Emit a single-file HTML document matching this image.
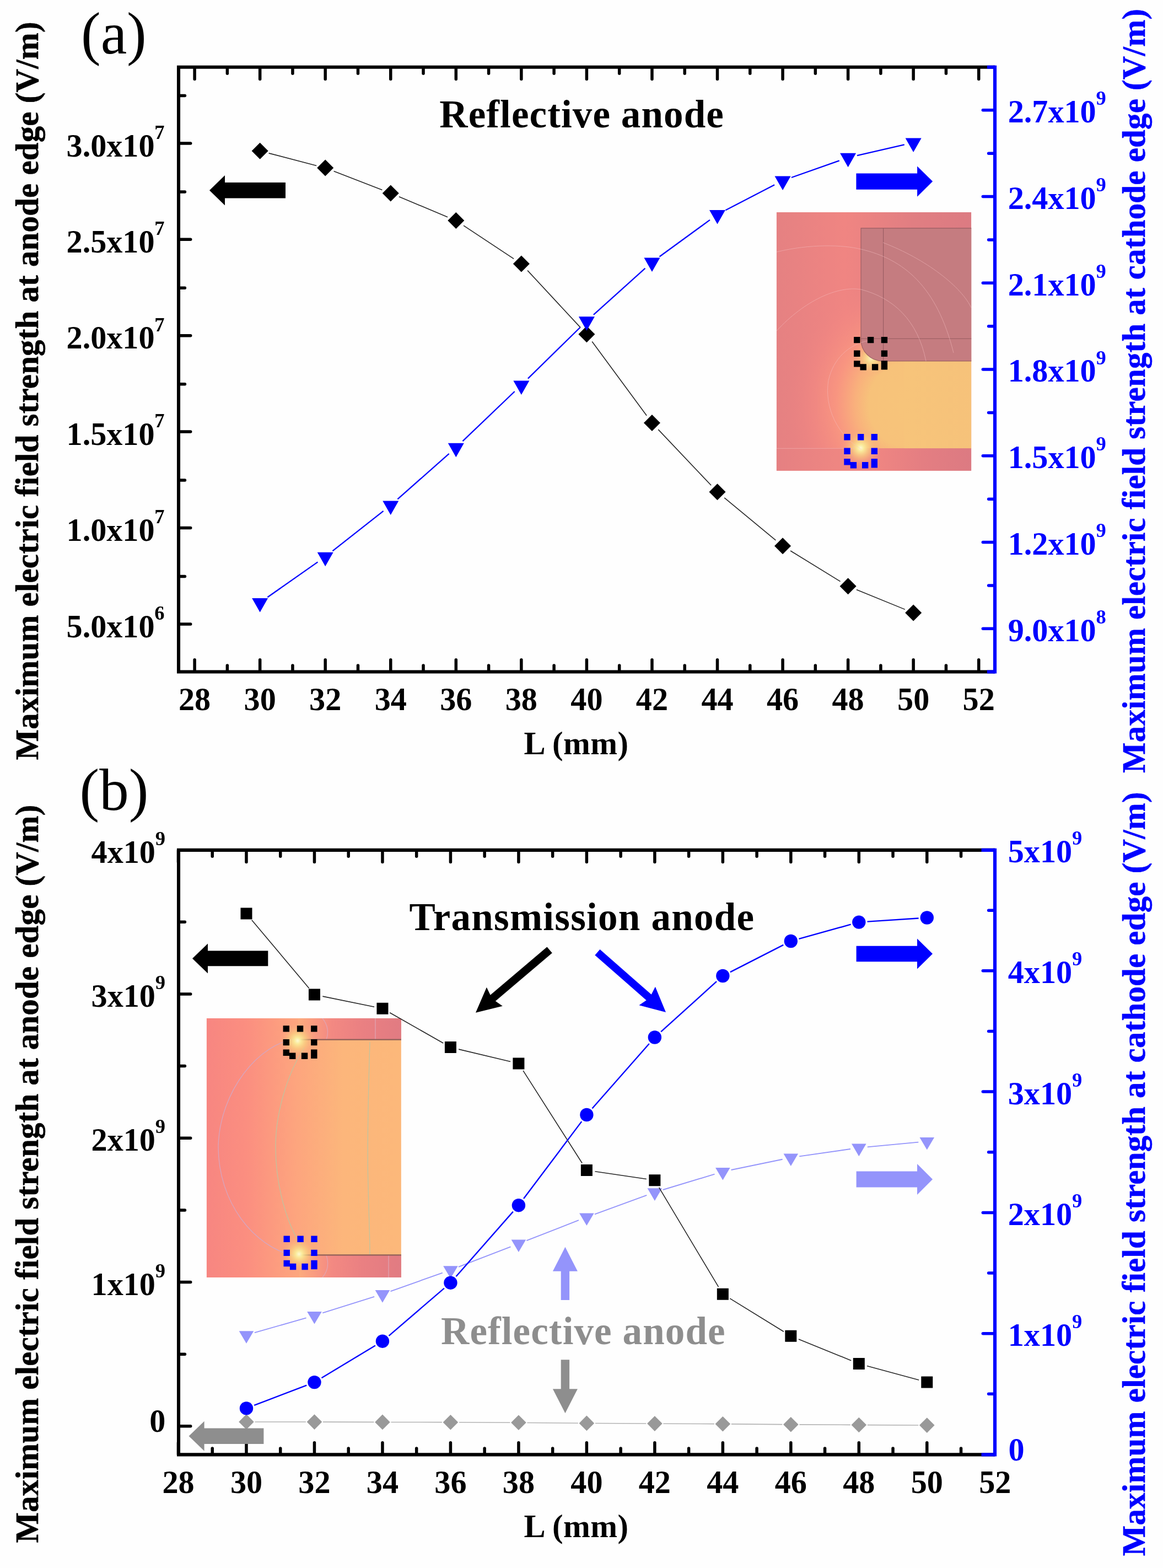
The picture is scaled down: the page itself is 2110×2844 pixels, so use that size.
<!DOCTYPE html>
<html lang="en"><head><meta charset="utf-8"><title>Maximum electric field strength vs L</title>
<style>html,body{margin:0;padding:0;background:#fefefe}svg{display:block}text{font-family:'Liberation Serif', serif}</style>
</head><body>
<svg width="2110" height="2844" viewBox="0 0 2110 2844">
<defs>
<linearGradient id="gaBg" x1="0" y1="0" x2="1" y2="0"><stop offset="0" stop-color="#e58182"/><stop offset="0.35" stop-color="#f08582"/><stop offset="0.7" stop-color="#e17e82"/><stop offset="1" stop-color="#dc7b82"/></linearGradient>
<radialGradient id="glow"><stop offset="0" stop-color="#fdfbd2"/><stop offset="0.18" stop-color="#faec9a" stop-opacity="0.95"/><stop offset="0.45" stop-color="#f9d080" stop-opacity="0.7"/><stop offset="0.75" stop-color="#fab47e" stop-opacity="0.3"/><stop offset="1" stop-color="#f9a07e" stop-opacity="0"/></radialGradient>
<linearGradient id="gbBg" x1="0" y1="0" x2="1" y2="0"><stop offset="0" stop-color="#f78681"/><stop offset="0.2" stop-color="#fb8e80"/><stop offset="0.45" stop-color="#fda47e"/><stop offset="0.7" stop-color="#fcb67b"/><stop offset="1" stop-color="#fcb87a"/></linearGradient>
<linearGradient id="gbBand" x1="0" y1="0" x2="1" y2="0"><stop offset="0" stop-color="#fcab7e"/><stop offset="0.14" stop-color="#fa9c80"/><stop offset="0.32" stop-color="#f38982"/><stop offset="0.62" stop-color="#ea8082"/><stop offset="1" stop-color="#e17b82"/></linearGradient>
<radialGradient id="gapGlow"><stop offset="0" stop-color="#f7c47a"/><stop offset="0.3" stop-color="#f7c27a"/><stop offset="0.42" stop-color="#f9b07c"/><stop offset="0.58" stop-color="#fa9880" stop-opacity="0.85"/><stop offset="0.8" stop-color="#f48a82" stop-opacity="0.4"/><stop offset="1" stop-color="#ea8282" stop-opacity="0"/></radialGradient>
<linearGradient id="gaCath" x1="0" y1="0" x2="1" y2="0"><stop offset="0" stop-color="#e58082"/><stop offset="0.3" stop-color="#ee8682"/><stop offset="0.5" stop-color="#f08682"/><stop offset="0.75" stop-color="#e47e82"/><stop offset="1" stop-color="#dc7a82"/></linearGradient>
<linearGradient id="gapR" x1="0" y1="0" x2="1" y2="0"><stop offset="0" stop-color="#f7c47a"/><stop offset="1" stop-color="#f6c27a"/></linearGradient>
<clipPath id="clipAgap"><rect x="1408.7" y="385" width="353.6" height="428.3"/></clipPath>
<clipPath id="clipA"><rect x="1408.7" y="385" width="353.6" height="468.8"/></clipPath>
<clipPath id="clipB"><rect x="374.7" y="1846.8" width="353.2" height="470.3"/></clipPath>
</defs>
<rect width="2110" height="2844" fill="#fefefe"/>
<g id="panel-a">
<g clip-path="url(#clipA)">
<rect x="1408.7" y="385" width="353.6" height="468.8" fill="url(#gaBg)"/>
<g clip-path="url(#clipAgap)">
<ellipse cx="1641" cy="734" rx="215" ry="250" fill="url(#gapGlow)"/>
<rect x="1640.5" y="650" width="124" height="164" fill="url(#gapR)"/>
</g>
<rect x="1408.7" y="813.3" width="353.6" height="41" fill="url(#gaCath)"/>
<circle cx="1580" cy="650" r="34" fill="url(#glow)" opacity="0.85"/>
<circle cx="1561.5" cy="812.5" r="36" fill="url(#glow)"/>
<path d="M1562 413.9H1763V654.9H1601A39 39 0 0 1 1562 615.9z" fill="#c57c80"/>
<path d="M1763 413.9H1562V615.9A39 39 0 0 0 1601 654.9H1763M1602.6 413.9V654.9M1562 614.3H1763" stroke="#8f565c" stroke-width="1.1" fill="none" opacity="0.85"/>
<g fill="none" stroke="#f6c0c2" stroke-width="1" opacity="0.5">
<path d="M1409 457C1470 442 1530 444 1562 452C1640 470 1700 520 1730 640"/>
<path d="M1409 600C1460 545 1520 518 1562 525C1620 540 1665 580 1680 655"/>
<path d="M1602 440C1680 470 1745 520 1763 560"/>
<path d="M1563 815C1520 790 1495 740 1503 690C1512 650 1540 625 1575 618"/>
<path d="M1409 813.3H1550"/>
</g>
</g>
<path d="M1549.1 610.9h11.4v11.4h-11.4zM1573.9 610.9h11.4v11.4h-11.4zM1598.7 610.9h11.4v11.4h-11.4zM1549.1 635.55h11.4v11.4h-11.4zM1598.7 635.55h11.4v11.4h-11.4zM1549.1 654.2h11.4v11.4h-11.4zM1560.5 660.2h11.4v11.4h-11.4zM1581.9 660.2h11.4v11.4h-11.4zM1598.7 654.2h11.4v16.4h-11.4z" fill="#000"/>
<path d="M1531.3 787.1h11.4v11.4h-11.4zM1555.95 787.1h11.4v11.4h-11.4zM1580.6 787.1h11.4v11.4h-11.4zM1531.3 812.55h11.4v11.4h-11.4zM1580.6 812.55h11.4v11.4h-11.4zM1531.3 832h11.4v11.4h-11.4zM1542.7 838h11.4v11.4h-11.4zM1563.95 838h11.4v11.4h-11.4zM1580.6 832h11.4v16.4h-11.4z" fill="#0000ff"/>
<path d="M353.1 1218.1v-21.3M353.1 122.2v21.3M412.38 1218.1v-11M412.38 122.2v11M471.65 1218.1v-21.3M471.65 122.2v21.3M530.92 1218.1v-11M530.92 122.2v11M590.2 1218.1v-21.3M590.2 122.2v21.3M649.48 1218.1v-11M649.48 122.2v11M708.75 1218.1v-21.3M708.75 122.2v21.3M768.03 1218.1v-11M768.03 122.2v11M827.3 1218.1v-21.3M827.3 122.2v21.3M886.58 1218.1v-11M886.58 122.2v11M945.85 1218.1v-21.3M945.85 122.2v21.3M1005.12 1218.1v-11M1005.12 122.2v11M1064.4 1218.1v-21.3M1064.4 122.2v21.3M1123.67 1218.1v-11M1123.67 122.2v11M1182.95 1218.1v-21.3M1182.95 122.2v21.3M1242.22 1218.1v-11M1242.22 122.2v11M1301.5 1218.1v-21.3M1301.5 122.2v21.3M1360.78 1218.1v-11M1360.78 122.2v11M1420.05 1218.1v-21.3M1420.05 122.2v21.3M1479.32 1218.1v-11M1479.32 122.2v11M1538.6 1218.1v-21.3M1538.6 122.2v21.3M1597.88 1218.1v-11M1597.88 122.2v11M1657.15 1218.1v-21.3M1657.15 122.2v21.3M1716.43 1218.1v-11M1716.43 122.2v11M1775.7 1218.1v-21.3M1775.7 122.2v21.3M324.4 259.9h21.3M324.4 434.3h21.3M324.4 608.7h21.3M324.4 783.1h21.3M324.4 957.5h21.3M324.4 1131.9h21.3M324.4 173.5h11M324.4 347.9h11M324.4 522.3h11M324.4 696.7h11M324.4 871.1h11M324.4 1045.5h11" stroke="#000" stroke-width="5.5" fill="none" stroke-linecap="round"/>
<path d="M1805 121.8H324V1218.5H1805" stroke="#000" stroke-width="6.1" fill="none" stroke-linejoin="miter"/>
<path d="M1804.6 199.8h-21.3M1804.6 356.55h-21.3M1804.6 513.3h-21.3M1804.6 670.05h-21.3M1804.6 826.8h-21.3M1804.6 983.55h-21.3M1804.6 1140.3h-21.3M1804.6 278.25h-11M1804.6 435h-11M1804.6 591.75h-11M1804.6 748.5h-11M1804.6 905.25h-11M1804.6 1062h-11" stroke="#0000ff" stroke-width="5.5" fill="none" stroke-linecap="round"/>
<path d="M1805 121.8h-14.15M1805 1218.5h-14.15" stroke="#0000ff" stroke-width="6.1" fill="none"/>
<path d="M1805 118.75V1221.55" stroke="#0000ff" stroke-width="6.2" fill="none"/>
<path d="M487.62 277.86L574.23 300.44M605.59 310.55L693.36 344.45M723.97 356.78L812.08 393.72M841.06 409.2L932.09 469.4M957.08 490.59L1053.17 594.11M1074.19 619.48L1173.16 753.82M1194.29 779.08L1290.16 880.32M1314.22 902.81L1407.33 979.79M1434.1 998.95L1524.55 1054.65M1553.88 1069.53L1641.87 1105.37" stroke="#262626" stroke-width="1.6" fill="none"/>
<path d="M471.65 258.7l15 15l-15 15l-15 -15zM590.2 289.6l15 15l-15 15l-15 -15zM708.75 335.4l15 15l-15 15l-15 -15zM827.3 385.1l15 15l-15 15l-15 -15zM945.85 463.5l15 15l-15 15l-15 -15zM1064.4 591.2l15 15l-15 15l-15 -15zM1182.95 752.1l15 15l-15 15l-15 -15zM1301.5 877.3l15 15l-15 15l-15 -15zM1420.05 975.3l15 15l-15 15l-15 -15zM1538.6 1048.3l15 15l-15 15l-15 -15zM1657.15 1096.6l15 15l-15 15l-15 -15z" fill="#000"/>
<path d="M485.4 1083.25L576.45 1019.35M603.4 999.31L695.55 926.79M721.35 905.28L814.7 822.92M839.44 800.19L933.71 710.01M957.85 686.64L1052.4 593.96M1076.88 570.96L1170.47 486.64M1196.53 465.51L1287.92 398.89M1316.42 381.27L1405.13 335.33M1435.89 322.01L1522.76 291.39M1554.97 282.04L1640.78 262.36" stroke="#0000ff" stroke-width="2.3" fill="none"/>
<path d="M457.15 1084.9h29l-14.5 25.5zM575.7 1001.7h29l-14.5 25.5zM694.25 908.4h29l-14.5 25.5zM812.8 803.8h29l-14.5 25.5zM931.35 690.4h29l-14.5 25.5zM1049.9 574.2h29l-14.5 25.5zM1168.45 467.4h29l-14.5 25.5zM1287 381h29l-14.5 25.5zM1405.55 319.6h29l-14.5 25.5zM1524.1 277.8h29l-14.5 25.5zM1642.65 250.6h29l-14.5 25.5z" fill="#0000ff"/>
<path d="M518 331H408V318.1L380 345.3L408 372.5V359.6H518z" fill="#000"/>
<path d="M1553.4 314.5H1664.1V301.5L1692.1 329.1L1664.1 356.7V343.7H1553.4z" fill="#0000ff"/>
<text x="298.6" y="283.5" font-size="58.2" font-weight="bold" fill="#000" text-anchor="end">3.0x10<tspan font-size="36.5" dy="-31.8" dx="-0.2">7</tspan></text>
<text x="298.6" y="457.9" font-size="58.2" font-weight="bold" fill="#000" text-anchor="end">2.5x10<tspan font-size="36.5" dy="-31.8" dx="-0.2">7</tspan></text>
<text x="298.6" y="632.3" font-size="58.2" font-weight="bold" fill="#000" text-anchor="end">2.0x10<tspan font-size="36.5" dy="-31.8" dx="-0.2">7</tspan></text>
<text x="298.6" y="806.7" font-size="58.2" font-weight="bold" fill="#000" text-anchor="end">1.5x10<tspan font-size="36.5" dy="-31.8" dx="-0.2">7</tspan></text>
<text x="298.6" y="981.1" font-size="58.2" font-weight="bold" fill="#000" text-anchor="end">1.0x10<tspan font-size="36.5" dy="-31.8" dx="-0.2">7</tspan></text>
<text x="298.6" y="1155.5" font-size="58.2" font-weight="bold" fill="#000" text-anchor="end">5.0x10<tspan font-size="36.5" dy="-31.8" dx="-0.2">6</tspan></text>
<text x="1828.7" y="222.2" font-size="58.2" font-weight="bold" fill="#0000ff">2.7x10<tspan font-size="36.5" dy="-31.8" dx="-0.2">9</tspan></text>
<text x="1828.7" y="378.95" font-size="58.2" font-weight="bold" fill="#0000ff">2.4x10<tspan font-size="36.5" dy="-31.8" dx="-0.2">9</tspan></text>
<text x="1828.7" y="535.7" font-size="58.2" font-weight="bold" fill="#0000ff">2.1x10<tspan font-size="36.5" dy="-31.8" dx="-0.2">9</tspan></text>
<text x="1828.7" y="692.45" font-size="58.2" font-weight="bold" fill="#0000ff">1.8x10<tspan font-size="36.5" dy="-31.8" dx="-0.2">9</tspan></text>
<text x="1828.7" y="849.2" font-size="58.2" font-weight="bold" fill="#0000ff">1.5x10<tspan font-size="36.5" dy="-31.8" dx="-0.2">9</tspan></text>
<text x="1828.7" y="1005.95" font-size="58.2" font-weight="bold" fill="#0000ff">1.2x10<tspan font-size="36.5" dy="-31.8" dx="-0.2">9</tspan></text>
<text x="1828.7" y="1162.7" font-size="58.2" font-weight="bold" fill="#0000ff">9.0x10<tspan font-size="36.5" dy="-31.8" dx="-0.2">8</tspan></text>
<text x="353.1" y="1288.4" font-size="58.2" font-weight="bold" fill="#000" text-anchor="middle">28</text>
<text x="471.65" y="1288.4" font-size="58.2" font-weight="bold" fill="#000" text-anchor="middle">30</text>
<text x="590.2" y="1288.4" font-size="58.2" font-weight="bold" fill="#000" text-anchor="middle">32</text>
<text x="708.75" y="1288.4" font-size="58.2" font-weight="bold" fill="#000" text-anchor="middle">34</text>
<text x="827.3" y="1288.4" font-size="58.2" font-weight="bold" fill="#000" text-anchor="middle">36</text>
<text x="945.85" y="1288.4" font-size="58.2" font-weight="bold" fill="#000" text-anchor="middle">38</text>
<text x="1064.4" y="1288.4" font-size="58.2" font-weight="bold" fill="#000" text-anchor="middle">40</text>
<text x="1182.95" y="1288.4" font-size="58.2" font-weight="bold" fill="#000" text-anchor="middle">42</text>
<text x="1301.5" y="1288.4" font-size="58.2" font-weight="bold" fill="#000" text-anchor="middle">44</text>
<text x="1420.05" y="1288.4" font-size="58.2" font-weight="bold" fill="#000" text-anchor="middle">46</text>
<text x="1538.6" y="1288.4" font-size="58.2" font-weight="bold" fill="#000" text-anchor="middle">48</text>
<text x="1657.15" y="1288.4" font-size="58.2" font-weight="bold" fill="#000" text-anchor="middle">50</text>
<text x="1775.7" y="1288.4" font-size="58.2" font-weight="bold" fill="#000" text-anchor="middle">52</text>
<text x="950.5" y="1367.8" font-size="58.6" font-weight="bold" fill="#000" textLength="189.5" lengthAdjust="spacing">L (mm)</text>
<text x="147" y="96.8" font-size="107" font-weight="normal" fill="#000">(a)</text>
<text x="797.3" y="230.6" font-size="71" font-weight="bold" fill="#000" textLength="515.5" lengthAdjust="spacing">Reflective anode</text>
<text transform="translate(68.6 1378.4) rotate(-90)" font-size="58.8" font-weight="bold" fill="#000" stroke="#000" stroke-width="0.6" textLength="1339" lengthAdjust="spacing">Maximum electric field strength at anode edge (V/m)</text>
<text transform="translate(2077 1402) rotate(-90)" font-size="58.8" font-weight="bold" fill="#0000ff" stroke="#0000ff" stroke-width="0.6" textLength="1386" lengthAdjust="spacing">Maximum electric field strength at cathode edge (V/m)</text>
</g>
<g id="panel-b">
<g clip-path="url(#clipB)">
<rect x="374.7" y="1846.8" width="353.2" height="470.3" fill="url(#gbBg)"/>
<rect x="541" y="1846.8" width="187" height="38.8" fill="url(#gbBand)"/>
<rect x="543" y="2276.4" width="185" height="41" fill="url(#gbBand)"/>
<g fill="none" stroke-width="1.3" opacity="0.9">
<path d="M540 1884C470 1890 398 1980 396 2080C396 2180 460 2262 535 2278" stroke="#d4a8c4"/>
<path d="M552 1900C520 1950 500 2020 500 2080C500 2150 520 2220 548 2262" stroke="#bcc6a2"/>
<path d="M671 1890C668 1990 666 2090 668 2150C669 2200 671 2240 671 2276" stroke="#b8c6a4"/>
<path d="M585 1847C596 1860 596 1875 592 1886M585 2317C596 2304 596 2289 592 2277M681 1847V1885M705 2277V2317" stroke="#e0a6b6"/>
</g>
<path d="M545 1885.6H728M545 2276.4H728" stroke="#8f6058" stroke-width="2.2" fill="none"/>
<circle cx="540" cy="1887.5" r="34" fill="url(#glow)"/>
<circle cx="542.5" cy="2274.5" r="34" fill="url(#glow)"/>
</g>
<path d="M513.6 1860.2h11.4v11.4h-11.4zM538.85 1860.2h11.4v11.4h-11.4zM564.1 1860.2h11.4v11.4h-11.4zM513.6 1884.9h11.4v11.4h-11.4zM564.1 1884.9h11.4v11.4h-11.4zM513.6 1903.6h11.4v11.4h-11.4zM525 1909.6h11.4v11.4h-11.4zM546.85 1909.6h11.4v11.4h-11.4zM564.1 1903.6h11.4v16.4h-11.4z" fill="#000"/>
<path d="M514.5 2241.5h11.4v11.4h-11.4zM539.4 2241.5h11.4v11.4h-11.4zM564.3 2241.5h11.4v11.4h-11.4zM514.5 2266.65h11.4v11.4h-11.4zM564.3 2266.65h11.4v11.4h-11.4zM514.5 2285.8h11.4v11.4h-11.4zM525.9 2291.8h11.4v11.4h-11.4zM547.4 2291.8h11.4v11.4h-11.4zM564.3 2285.8h11.4v16.4h-11.4z" fill="#0000ff"/>
<path d="M323.5 2638v-21.3M323.5 1542.3v21.3M385.24 2638v-11M385.24 1542.3v11M446.98 2638v-21.3M446.98 1542.3v21.3M508.72 2638v-11M508.72 1542.3v11M570.46 2638v-21.3M570.46 1542.3v21.3M632.2 2638v-11M632.2 1542.3v11M693.94 2638v-21.3M693.94 1542.3v21.3M755.68 2638v-11M755.68 1542.3v11M817.42 2638v-21.3M817.42 1542.3v21.3M879.16 2638v-11M879.16 1542.3v11M940.9 2638v-21.3M940.9 1542.3v21.3M1002.64 2638v-11M1002.64 1542.3v11M1064.38 2638v-21.3M1064.38 1542.3v21.3M1126.12 2638v-11M1126.12 1542.3v11M1187.86 2638v-21.3M1187.86 1542.3v21.3M1249.6 2638v-11M1249.6 1542.3v11M1311.34 2638v-21.3M1311.34 1542.3v21.3M1373.08 2638v-11M1373.08 1542.3v11M1434.82 2638v-21.3M1434.82 1542.3v21.3M1496.56 2638v-11M1496.56 1542.3v11M1558.3 2638v-21.3M1558.3 1542.3v21.3M1620.04 2638v-11M1620.04 1542.3v11M1681.78 2638v-21.3M1681.78 1542.3v21.3M1743.52 2638v-11M1743.52 1542.3v11M1805.26 2638v-21.3M1805.26 1542.3v21.3M324.4 1802.9h21.3M324.4 2064.2h21.3M324.4 2325.5h21.3M324.4 2586.8h21.3M324.4 1672.3h11M324.4 1933.5h11M324.4 2194.9h11M324.4 2456.2h11" stroke="#000" stroke-width="5.5" fill="none" stroke-linecap="round"/>
<path d="M1805 1541.9H324V2638.4H1805" stroke="#000" stroke-width="6.1" fill="none" stroke-linejoin="miter"/>
<path d="M1804.6 1760.86h-21.3M1804.6 1980.12h-21.3M1804.6 2199.38h-21.3M1804.6 2418.64h-21.3M1804.6 1651.2h-11M1804.6 1870.46h-11M1804.6 2089.72h-11M1804.6 2308.98h-11M1804.6 2528.24h-11" stroke="#0000ff" stroke-width="5.5" fill="none" stroke-linecap="round"/>
<path d="M1805 1541.9h-24.45M1805 2638.4h-24.45" stroke="#0000ff" stroke-width="6.1" fill="none"/>
<path d="M1805 1538.85V2641.45" stroke="#0000ff" stroke-width="6.2" fill="none"/>
<path d="M462.48 2578.93L554.96 2579.07M585.96 2579.14L678.44 2579.36M709.44 2579.44L801.92 2579.66M832.92 2579.78L925.4 2580.22M956.4 2580.44L1048.88 2581.26M1079.88 2581.49L1172.36 2582.01M1203.36 2582.18L1295.84 2582.62M1326.84 2582.84L1419.32 2583.66M1450.32 2583.89L1542.8 2584.41M1573.8 2584.58L1666.28 2585.02" stroke="#b4b4b4" stroke-width="1.6" fill="none"/>
<path d="M446.98 2565.1l13.8 13.8l-13.8 13.8l-13.8 -13.8zM570.46 2565.3l13.8 13.8l-13.8 13.8l-13.8 -13.8zM693.94 2565.6l13.8 13.8l-13.8 13.8l-13.8 -13.8zM817.42 2565.9l13.8 13.8l-13.8 13.8l-13.8 -13.8zM940.9 2566.5l13.8 13.8l-13.8 13.8l-13.8 -13.8zM1064.38 2567.6l13.8 13.8l-13.8 13.8l-13.8 -13.8zM1187.86 2568.3l13.8 13.8l-13.8 13.8l-13.8 -13.8zM1311.34 2568.9l13.8 13.8l-13.8 13.8l-13.8 -13.8zM1434.82 2570l13.8 13.8l-13.8 13.8l-13.8 -13.8zM1558.3 2570.7l13.8 13.8l-13.8 13.8l-13.8 -13.8zM1681.78 2571.3l13.8 13.8l-13.8 13.8l-13.8 -13.8z" fill="#999999"/>
<path d="M461.88 2417.14L555.56 2390.36M585.25 2381.45L679.15 2351.95M708.54 2342.11L802.82 2308.59M831.88 2297.81L926.44 2261.29M955.34 2250.07L1049.94 2213.23M1078.94 2202.28L1173.3 2167.82M1202.7 2158.02L1296.5 2129.68M1326.52 2122.05L1419.64 2102.75M1450.16 2097.39L1542.96 2084.01M1573.73 2080.35L1666.35 2071.65" stroke="#9494fb" stroke-width="1.9" fill="none"/>
<path d="M433.68 2414.2h26.6l-13.3 22.6zM557.16 2378.9h26.6l-13.3 22.6zM680.64 2340.1h26.6l-13.3 22.6zM804.12 2296.2h26.6l-13.3 22.6zM927.6 2248.5h26.6l-13.3 22.6zM1051.08 2200.4h26.6l-13.3 22.6zM1174.56 2155.3h26.6l-13.3 22.6zM1298.04 2118h26.6l-13.3 22.6zM1421.52 2092.4h26.6l-13.3 22.6zM1545 2074.6h26.6l-13.3 22.6zM1668.48 2063h26.6l-13.3 22.6z" fill="#9494fb"/>
<path d="M456.75 1668.64L560.69 1792.46M585.36 1807.13L679.04 1826.17M707.14 1836.73L804.22 1892.07M832.2 1903.13L926.12 1925.57M949.08 1941.91L1056.2 2109.79M1079.42 2124.82L1172.82 2138.58M1195.66 2153.84L1303.54 2334.16M1324.28 2355.17L1421.88 2415.23M1448.9 2428.92L1544.22 2467.68M1572.96 2477.4L1667.12 2503.1" stroke="#262626" stroke-width="1.6" fill="none"/>
<path d="M436.48 1646.5h21v21h-21zM559.96 1793.6h21v21h-21zM683.44 1818.7h21v21h-21zM806.92 1889.1h21v21h-21zM930.4 1918.6h21v21h-21zM1053.88 2112.1h21v21h-21zM1177.36 2130.3h21v21h-21zM1300.84 2336.7h21v21h-21zM1424.32 2412.7h21v21h-21zM1547.8 2462.9h21v21h-21zM1671.28 2496.6h21v21h-21z" fill="#000"/>
<path d="M461.17 2548.96L556.27 2512.54M583.48 2499.26L680.92 2440.54M705.47 2422.8L805.89 2336.6M827.45 2315.28L930.87 2197.62M950.04 2174.05L1055.24 2034.15M1074.41 2010.58L1177.83 1892.92M1199.14 1871.31L1300.06 1780.19M1324.88 1763.09L1421.28 1713.91M1449.46 1702.92L1543.66 1676.68M1573.47 1671.61L1666.61 1665.49" stroke="#0000ff" stroke-width="2.4" fill="none"/>
<circle cx="446.98" cy="2554.4" r="12.2" fill="#0000ff"/>
<circle cx="570.46" cy="2507.1" r="12.2" fill="#0000ff"/>
<circle cx="693.94" cy="2432.7" r="12.2" fill="#0000ff"/>
<circle cx="817.42" cy="2326.7" r="12.2" fill="#0000ff"/>
<circle cx="940.9" cy="2186.2" r="12.2" fill="#0000ff"/>
<circle cx="1064.38" cy="2022" r="12.2" fill="#0000ff"/>
<circle cx="1187.86" cy="1881.5" r="12.2" fill="#0000ff"/>
<circle cx="1311.34" cy="1770" r="12.2" fill="#0000ff"/>
<circle cx="1434.82" cy="1707" r="12.2" fill="#0000ff"/>
<circle cx="1558.3" cy="1672.6" r="12.2" fill="#0000ff"/>
<circle cx="1681.78" cy="1664.5" r="12.2" fill="#0000ff"/>
<path d="M486.3 1724.6H377V1711.4L349 1738.4L377 1765.4V1752.2H486.3z" fill="#000"/>
<path d="M1553.6 1715.7H1664V1702.4L1692 1730L1664 1757.6V1744.3H1553.6z" fill="#0000ff"/>
<path d="M1553.6 2124.4H1664V2110.9L1692 2138.9L1664 2166.9V2153.4H1553.6z" fill="#9494fb"/>
<path d="M478.4 2590.6H370.6V2577.8L342.6 2604.8L370.6 2631.8V2619H478.4z" fill="#8e8e8e"/>
<path d="M992.44 1717.51L889.6 1804.78L882.88 1790.68L863 1836.8L911.74 1824.69L898.92 1815.76L1001.76 1728.49z" fill="#000"/>
<path d="M1079.35 1732.39L1172.63 1814.24L1159.47 1823.18L1208 1836.1L1188.88 1789.66L1181.73 1803.87L1088.45 1722.01z" fill="#0000ff"/>
<path d="M1017.7 2358V2305.8H1002.9L1025.4 2261.8L1047.9 2305.8H1033.1V2358z" fill="#9494fb"/>
<path d="M1017.7 2466.3V2519.2H1002.9L1025.4 2563.2L1047.9 2519.2H1033.1V2466.3z" fill="#8e8e8e"/>
<text x="300" y="1564.6" font-size="58.2" font-weight="bold" fill="#000" text-anchor="end">4x10<tspan font-size="36.5" dy="-31.8" dx="-0.2">9</tspan></text>
<text x="300" y="1825.9" font-size="58.2" font-weight="bold" fill="#000" text-anchor="end">3x10<tspan font-size="36.5" dy="-31.8" dx="-0.2">9</tspan></text>
<text x="300" y="2087.2" font-size="58.2" font-weight="bold" fill="#000" text-anchor="end">2x10<tspan font-size="36.5" dy="-31.8" dx="-0.2">9</tspan></text>
<text x="300" y="2348.5" font-size="58.2" font-weight="bold" fill="#000" text-anchor="end">1x10<tspan font-size="36.5" dy="-31.8" dx="-0.2">9</tspan></text>
<text x="300.3" y="2597" font-size="58.2" font-weight="bold" fill="#000" text-anchor="end">0</text>
<text x="1828.7" y="1564" font-size="58.2" font-weight="bold" fill="#0000ff">5x10<tspan font-size="36.5" dy="-31.8" dx="-0.2">9</tspan></text>
<text x="1828.7" y="1783.26" font-size="58.2" font-weight="bold" fill="#0000ff">4x10<tspan font-size="36.5" dy="-31.8" dx="-0.2">9</tspan></text>
<text x="1828.7" y="2002.52" font-size="58.2" font-weight="bold" fill="#0000ff">3x10<tspan font-size="36.5" dy="-31.8" dx="-0.2">9</tspan></text>
<text x="1828.7" y="2221.78" font-size="58.2" font-weight="bold" fill="#0000ff">2x10<tspan font-size="36.5" dy="-31.8" dx="-0.2">9</tspan></text>
<text x="1828.7" y="2441.04" font-size="58.2" font-weight="bold" fill="#0000ff">1x10<tspan font-size="36.5" dy="-31.8" dx="-0.2">9</tspan></text>
<text x="1829.5" y="2648.8" font-size="58.2" font-weight="bold" fill="#0000ff">0</text>
<text x="323.5" y="2708.3" font-size="58.2" font-weight="bold" fill="#000" text-anchor="middle">28</text>
<text x="446.98" y="2708.3" font-size="58.2" font-weight="bold" fill="#000" text-anchor="middle">30</text>
<text x="570.46" y="2708.3" font-size="58.2" font-weight="bold" fill="#000" text-anchor="middle">32</text>
<text x="693.94" y="2708.3" font-size="58.2" font-weight="bold" fill="#000" text-anchor="middle">34</text>
<text x="817.42" y="2708.3" font-size="58.2" font-weight="bold" fill="#000" text-anchor="middle">36</text>
<text x="940.9" y="2708.3" font-size="58.2" font-weight="bold" fill="#000" text-anchor="middle">38</text>
<text x="1064.38" y="2708.3" font-size="58.2" font-weight="bold" fill="#000" text-anchor="middle">40</text>
<text x="1187.86" y="2708.3" font-size="58.2" font-weight="bold" fill="#000" text-anchor="middle">42</text>
<text x="1311.34" y="2708.3" font-size="58.2" font-weight="bold" fill="#000" text-anchor="middle">44</text>
<text x="1434.82" y="2708.3" font-size="58.2" font-weight="bold" fill="#000" text-anchor="middle">46</text>
<text x="1558.3" y="2708.3" font-size="58.2" font-weight="bold" fill="#000" text-anchor="middle">48</text>
<text x="1681.78" y="2708.3" font-size="58.2" font-weight="bold" fill="#000" text-anchor="middle">50</text>
<text x="1805.26" y="2708.3" font-size="58.2" font-weight="bold" fill="#000" text-anchor="middle">52</text>
<text x="950.5" y="2787.9" font-size="58.6" font-weight="bold" fill="#000" textLength="189.5" lengthAdjust="spacing">L (mm)</text>
<text x="144.5" y="1469.3" font-size="107" font-weight="normal" fill="#000">(b)</text>
<text x="742.5" y="1686.8" font-size="71" font-weight="bold" fill="#000" textLength="625.5" lengthAdjust="spacing">Transmission anode</text>
<text x="800" y="2437.6" font-size="71" font-weight="bold" fill="#8e8e8e" textLength="515.5" lengthAdjust="spacing">Reflective anode</text>
<text transform="translate(68.6 2798.6) rotate(-90)" font-size="58.8" font-weight="bold" fill="#000" stroke="#000" stroke-width="0.6" textLength="1339" lengthAdjust="spacing">Maximum electric field strength at anode edge (V/m)</text>
<text transform="translate(2077 2822.3) rotate(-90)" font-size="58.8" font-weight="bold" fill="#0000ff" stroke="#0000ff" stroke-width="0.6" textLength="1386" lengthAdjust="spacing">Maximum electric field strength at cathode edge (V/m)</text>
</g>
</svg>
</body></html>
